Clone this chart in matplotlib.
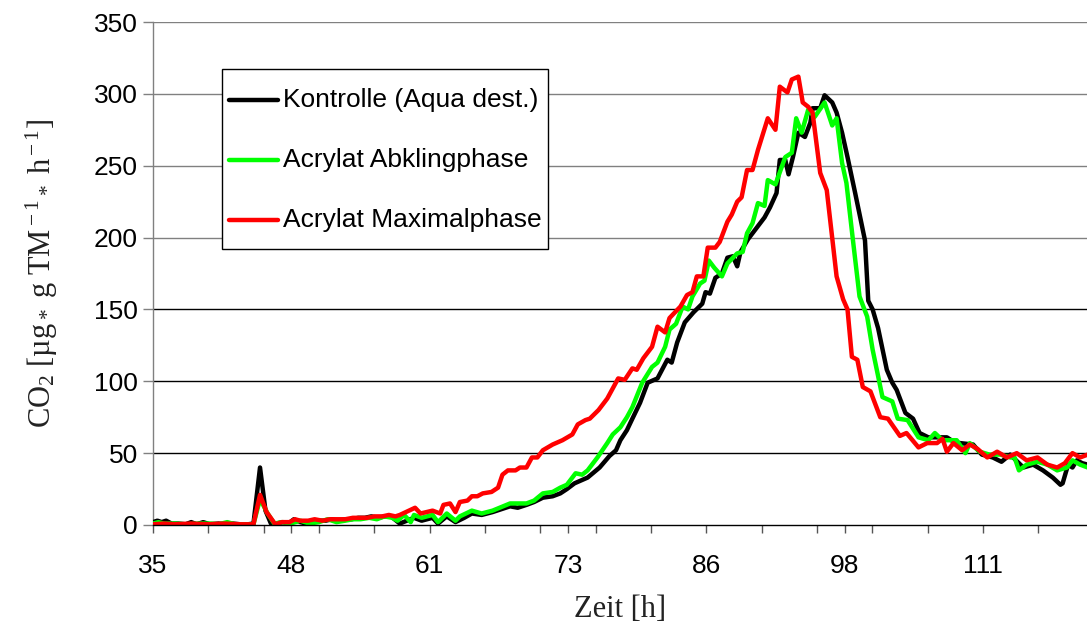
import matplotlib
matplotlib.use("Agg")
import matplotlib.pyplot as plt
from matplotlib.lines import Line2D
from matplotlib.patches import Rectangle

# ---------------- data (time in h, CO2 rate) ----------------
kontrolle_t = [35.0, 35.4, 35.8, 36.2, 36.7, 37.3, 38.0, 38.5, 39.0, 39.6, 40.2, 41.0, 41.6, 42.3,
               43.0, 43.7, 44.2, 44.8, 45.3, 45.8, 46.3, 46.9, 47.4, 47.9, 48.5, 49.0, 49.6, 50.2,
               50.8, 51.4, 52.0, 52.6, 53.2, 53.8, 54.4, 55.0, 55.6, 56.2, 56.8, 57.6, 58.9, 59.6,
               60.6, 61.1, 61.9, 62.7, 63.5, 64.2, 65.1, 66.1, 67.7, 68.4, 69.2, 69.9, 70.7, 71.6,
               72.3, 72.9, 73.6, 74.8, 75.9, 76.8, 77.4, 77.8, 78.4, 78.9, 79.6, 80.3, 81.2, 82.1,
               82.5, 83.0, 83.7, 84.5, 85.3, 85.6, 86.0, 86.5, 87.1, 87.6, 88.1, 88.5, 88.8, 89.5,
               90.3, 91.0, 91.5, 92.1, 92.4, 92.9, 93.2, 93.6, 94.1, 94.7, 95.2, 95.4, 96.1, 96.5,
               97.2, 97.6, 98.1, 98.6, 99.3, 100.2, 100.5, 100.9, 101.4, 102.2, 102.7, 103.1, 103.9,
               104.6, 105.2, 106.0, 106.8, 107.7, 108.3, 108.9, 110.1, 110.9, 111.9, 112.7, 113.5,
               114.7, 115.6, 116.5, 117.4, 118.1, 118.3, 118.8, 119.2, 119.6, 120.1, 120.6]
kontrolle_v = [2, 3, 2, 3, 1, 1, 0.5, 2, 0.5, 2, 0.5, 1, 0.5, 1,
               0.5, 0.5, 1, 40, 10, 1, 1, 2, 1, 4, 2, 1, 2, 3,
               3, 4, 3, 4, 4, 5, 5, 6, 5, 6, 6, 1, 5, 3,
               5, 1, 6, 2, 5, 8, 7, 9, 13, 12, 14, 16, 19, 20,
               22, 25, 29, 33, 40, 48, 52, 59, 66, 74, 85, 99, 102, 115,
               113, 127, 141, 148, 154, 162, 161, 172, 175, 186, 187, 180, 190, 199,
               207, 214, 221, 231, 254, 254, 244, 256, 273, 270, 280, 290, 290, 299,
               294, 287, 273, 256, 231, 198, 156, 150, 137, 108, 99, 94, 78,
               74, 64, 61, 61, 61, 58, 57, 56, 49, 47, 44, 49,
               40, 42, 38, 33, 28, 29, 42, 40, 45, 43, 42]

abkling_t = [35.0, 35.5, 36.0, 37.0, 38.0, 39.3, 40.3, 41.0, 41.8, 42.5, 43.4, 44.2, 44.8, 45.5,
             46.1, 46.8, 47.6, 48.5, 49.3, 50.2, 51.0, 51.8, 52.6, 53.3, 54.0, 54.8, 55.5, 56.2,
             56.9, 57.4, 58.0, 58.6, 58.9, 59.6, 60.6, 61.1, 61.9, 62.7, 63.1, 64.2, 65.1, 66.1,
             67.7, 68.4, 69.2, 69.9, 70.7, 71.6, 72.3, 72.9, 73.7, 74.3, 74.8, 75.7, 76.6, 77.1,
             77.8, 78.4, 78.9, 79.8, 80.7, 81.2, 81.9, 82.3, 82.9, 83.5, 84.0, 84.4, 85.1, 85.5,
             85.9, 86.4, 87.1, 87.6, 88.5, 89.0, 89.4, 89.9, 90.4, 91.0, 91.3, 92.0, 92.9, 93.5,
             93.9, 94.4, 95.0, 95.6, 96.5, 97.2, 97.6, 98.1, 98.5, 99.1, 99.7, 100.4, 100.9,
             101.8, 102.7, 103.2, 104.1, 105.1, 106.0, 106.6, 107.3, 108.0, 108.6, 109.4, 109.8,
             110.7, 111.6, 112.6, 113.5, 113.9, 114.3, 115.0, 116.0, 116.9, 117.8, 118.7, 119.2,
             119.9, 120.6]
abkling_v = [1, 2, 1, 1, 0.5, 1, 1, 0.5, 2, 0.5, 0.5, 0.5, 18, 8,
             1, 2, 1, 3, 1, 2, 4, 2, 3, 4, 4, 5, 4, 6,
             5, 3, 7, 2, 7, 5, 7, 2, 8, 3, 6, 10, 8, 10,
             15, 15, 15, 17, 22, 23, 26, 28, 36, 35, 38, 47, 57, 63,
             68, 75, 82, 99, 110, 113, 124, 136, 140, 152, 150, 159, 168, 170,
             184, 179, 173, 182, 189, 190, 203, 210, 224, 222, 240, 237, 256, 259,
             283, 273, 289, 284, 294, 278, 283, 252, 238, 198, 159, 145, 122,
             89, 86, 74, 73, 61, 59, 64, 59, 59, 59, 50, 57,
             51, 49, 49, 47, 47, 38, 42, 44, 42, 38, 40, 45,
             42, 40]

maximal_t = [35.0, 36.0, 37.0, 38.5, 40.0, 41.5, 43.0, 44.2, 44.8, 45.4, 46.2, 46.8, 47.5, 48.0,
             48.5, 49.2, 49.8, 50.5, 51.2, 51.9, 52.6, 53.3, 54.0, 54.6, 55.3, 56.0, 56.6, 57.2,
             57.6, 59.0, 59.5, 60.6, 61.3, 61.6, 62.2, 62.7, 63.1, 63.8, 64.2, 64.7, 65.2, 66.0,
             66.6, 67.0, 67.5, 68.2, 68.6, 69.2, 69.7, 70.2, 70.7, 71.6, 72.5, 73.4, 73.9, 74.6,
             75.0, 75.8, 76.6, 77.6, 78.2, 78.9, 79.3, 79.9, 80.7, 81.2, 81.9, 82.3, 83.3, 83.9,
             84.4, 84.8, 85.4, 85.8, 86.5, 86.9, 87.6, 88.0, 88.5, 88.9, 89.4, 89.9, 90.4, 91.3,
             92.0, 92.4, 93.1, 93.5, 94.1, 94.5, 95.0, 95.4, 96.1, 96.7, 97.6, 98.2, 98.6, 99.0,
             99.5, 100.0, 100.7, 101.6, 102.3, 103.4, 104.0, 105.1, 105.9, 106.8, 107.3, 107.7,
             108.3, 109.1, 109.8, 110.5, 111.4, 112.3, 113.2, 114.1, 115.0, 116.0, 116.9, 117.8,
             118.5, 119.2, 119.9, 120.6]
maximal_v = [0.5, 1, 0.5, 1, 0.5, 1, 0.5, 0.5, 21, 9, 0.5, 2, 2, 4,
             3, 3, 4, 3, 4, 4, 4, 5, 5, 5, 6, 6, 7, 6,
             7, 12, 8, 10, 8, 14, 15, 9, 16, 17, 20, 20, 22, 23,
             26, 35, 38, 38, 40, 40, 47, 47, 52, 56, 59, 63, 70, 73,
             74, 80, 88, 102, 101, 109, 108, 116, 124, 138, 134, 144, 152, 160,
             162, 173, 173, 193, 193, 197, 211, 216, 225, 228, 247, 247, 261, 283,
             275, 305, 301, 310, 312, 294, 291, 287, 245, 233, 173, 157, 150, 117,
             115, 96, 93, 75, 74, 62, 64, 54, 57, 57, 60, 51,
             57, 52, 56, 53, 47, 51, 47, 50, 45, 47, 42, 40,
             43, 50, 47, 49]

series_labels = ["Kontrolle (Aqua dest.)", "Acrylat Abklingphase", "Acrylat Maximalphase"]
series_colors = ["#000000", "#00FF00", "#FF0000"]

tick_labels = ["35", "48", "61", "73", "86", "98", "111"]
y_ticks = [0, 50, 100, 150, 200, 250, 300, 350]

# ---------------- figure ----------------
plt.rcParams["mathtext.fontset"] = "custom"
plt.rcParams["mathtext.rm"] = "Liberation Serif"
plt.rcParams["mathtext.it"] = "Liberation Serif:italic"
plt.rcParams["mathtext.bf"] = "Liberation Serif:bold"

W, H = 1087, 628
fig = plt.figure(figsize=(W / 100, H / 100), dpi=100)
ax = fig.add_axes([153 / W, 1 - 525 / H, 1 - 153 / W, (525 - 22) / H])

label_step = 12.667
tick_pos = [35 + i * label_step for i in range(len(tick_labels))]
minor_pos = [35 + i * label_step / 2.5 for i in range(17)]

# gridlines
for yv in y_ticks[1:]:
    col = "#808080" if yv >= 200 else "#000000"
    ax.axhline(yv, color=col, lw=1.0, zorder=1)

series = [(kontrolle_t, kontrolle_v), (abkling_t, abkling_v), (maximal_t, maximal_v)]
for (t, v), lab, c in zip(series, series_labels, series_colors):
    ax.plot(t, v, color=c, lw=3.2, solid_joinstyle="round", solid_capstyle="round",
            label=lab, zorder=3, clip_on=True)

for s in ["top", "right"]:
    ax.spines[s].set_visible(False)
ax.spines["left"].set_color("#808080")
ax.spines["left"].set_linewidth(1.0)
ax.spines["bottom"].set_color("#000000")
ax.spines["bottom"].set_linewidth(1.0)
ax.spines["bottom"].set_zorder(4)

ax.set_yticks(y_ticks)
ax.set_yticklabels([str(v) for v in y_ticks], fontsize=19, fontfamily="Liberation Sans")
ax.tick_params(axis="y", direction="out", length=7, width=1, color="#808080", pad=4)

ax.set_xticks(minor_pos, minor=True)
ax.set_xticks(tick_pos)
ax.set_xticklabels(tick_labels, fontsize=19, fontfamily="Liberation Sans")
ax.tick_params(axis="x", which="both", direction="out", length=6, width=1, color="#555555", pad=15)

ax.set_xlim(35, 35 + (1087 - 153) / 10.92)
ax.set_ylim(0, 350)

ax.set_xlabel("Zeit [h]", fontsize=22, fontfamily="Liberation Serif", labelpad=12, color="#222222")
ax.set_ylabel(r"CO$_2$ [µg$_*$ g TM$^{\rm -1}$$_*$ h$^{\rm -1}$]", fontsize=22,
              fontfamily="Liberation Serif", labelpad=24, color="#222222")

# legend box (drawn in figure pixel space)
def fx(px):
    return px / W

def fy(py):
    return 1 - py / H

fig.add_artist(Rectangle((fx(222), fy(249)), fx(548) - fx(222), fy(69) - fy(249),
                         transform=fig.transFigure, facecolor="white", edgecolor="#000000",
                         lw=1.0, zorder=5))
for i, (lab, c) in enumerate(zip(series_labels, series_colors)):
    yy = 100 + i * 60
    fig.add_artist(Line2D([fx(229), fx(278)], [fy(yy), fy(yy)], transform=fig.transFigure,
                          color=c, lw=3.2, solid_capstyle="round", zorder=6))
    fig.text(fx(283), fy(yy), lab, fontsize=19, fontfamily="Liberation Sans",
             va="center", ha="left", zorder=6)

fig.savefig("out.png", dpi=100)
